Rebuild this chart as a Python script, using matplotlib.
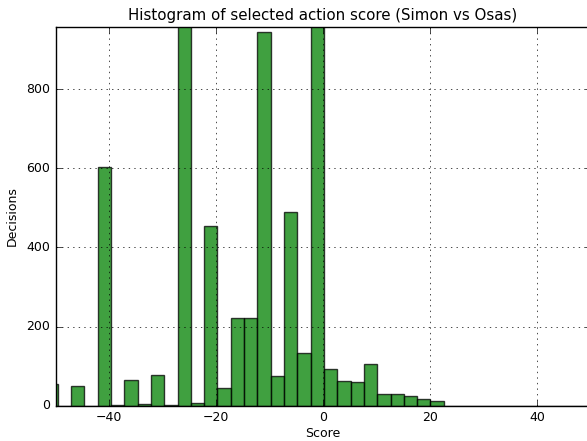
import matplotlib
matplotlib.use('Agg')
import matplotlib.pyplot as plt
import numpy as np

# bins of the histogram
bin_start = -52.07
bin_width = 2.488
counts = [54, 0, 51, 0, 602, 1, 64, 5, 77, 3,
          1300, 6, 454, 44, 223, 222, 945, 75, 490, 134,
          1500, 92, 63, 60, 105, 30, 30, 26, 17, 12,
          0, 0, 0, 0, 0, 0, 0, 0, 0, 0, 0, 0]
x_ticks = [-40, -20, 0, 20, 40]
y_ticks = [0, 200, 400, 600, 800]

edges = bin_start + bin_width * np.arange(len(counts) + 1)

plt.style.use('classic')
plt.rcParams['font.size'] = 9

fig = plt.figure(figsize=(5.87, 4.41), dpi=100)
ax = fig.add_axes([55.5 / 587, 35.2 / 441, 535 / 587, 378.5 / 441])

# Гистограмма
ax.hist(edges[:-1], bins=edges, weights=counts, color='g', alpha=0.75,
        edgecolor='k')

ax.set_xlim(-50, 50)
ax.set_ylim(0, 956)
ax.set_xticks(x_ticks)
ax.set_yticks(y_ticks)
ax.set_xlabel('Score', labelpad=2)
ax.set_ylabel('Decisions')
ax.set_title('Histogram of selected action score (Simon vs Osas)', fontsize=10.8)
ax.grid(True)

fig.savefig('out.png', dpi=100)
